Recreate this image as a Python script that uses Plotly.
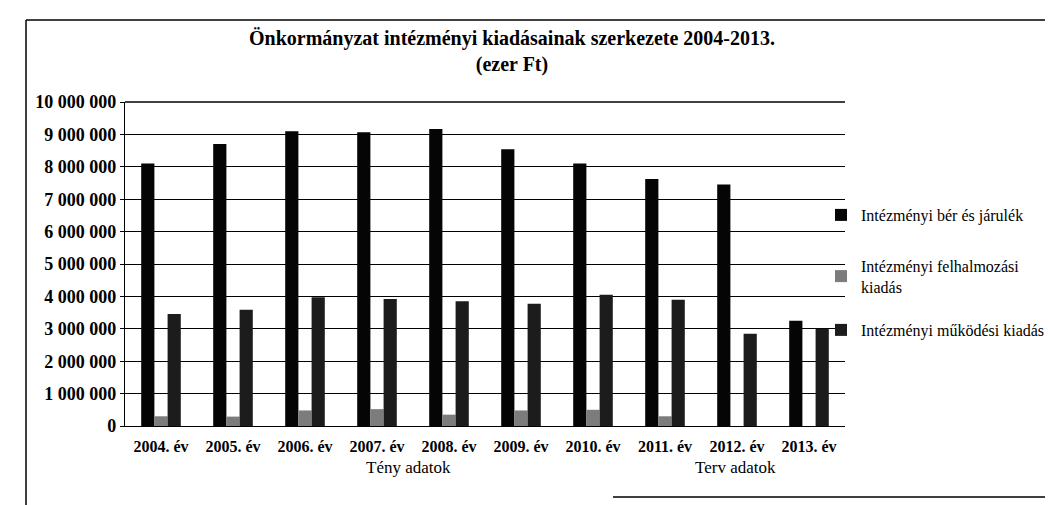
import plotly.graph_objects as go

years = ["2004. év", "2005. év", "2006. év", "2007. év", "2008. év",
         "2009. év", "2010. év", "2011. év", "2012. év", "2013. év"]
ber_jarulek = [8100000, 8700000, 9100000, 9070000, 9170000,
               8540000, 8100000, 7620000, 7450000, 3250000]
felhalmozasi = [300000, 290000, 480000, 520000, 350000,
                480000, 500000, 300000, 0, 0]
mukodesi = [3460000, 3590000, 3970000, 3920000, 3850000,
            3770000, 4050000, 3900000, 2850000, 3000000]
series_names = ["Intézményi bér és járulék",
                "Intézményi felhalmozási<br>kiadás",
                "Intézményi működési kiadás"]
group_labels = ["Tény adatok", "Terv adatok"]
title_lines = ["Önkormányzat intézményi kiadásainak szerkezete 2004-2013.", "(ezer Ft)"]

SERIF = "Liberation Serif, Times New Roman, serif"
W, H = 1053, 505
L, R, T, B = 117, 216, 94, 87
PW, PH = W - L - R, H - T - B


def px_x(p):
    return (p - L) / PW


def px_y(p):
    return (H - B - p) / PH


fig = go.Figure()
colors = ["#050505", "#7c7c7c", "#1c1c1c"]
legend_refs = ["legend", "legend", "legend2"]
for i, (name, vals) in enumerate(zip(series_names, [ber_jarulek, felhalmozasi, mukodesi])):
    fig.add_trace(go.Bar(x=years, y=vals, name=name, marker_color=colors[i],
                         marker_line_width=0, legendgroup=f"g{i}",
                         legend=legend_refs[i]))

legend_style = dict(xanchor="left", yanchor="top",
                    font=dict(family=SERIF, size=16, color="black"),
                    bgcolor="rgba(0,0,0,0)", itemwidth=30)
fig.update_layout(
    width=W, height=H,
    margin=dict(l=L, r=R, t=T, b=B, autoexpand=False),
    paper_bgcolor="white", plot_bgcolor="white",
    barmode="group", bargap=0.45, bargroupgap=0,
    separators=", ",
    font=dict(family=SERIF, color="black"),
    title=dict(text="<br>".join(title_lines), x=504 / W, xanchor="center",
               xref="container", y=1 - 37 / H, yanchor="top", yref="container",
               font=dict(family=SERIF, size=20, weight="bold", color="black")),
    legend=dict(x=px_x(813), y=px_y(190), tracegroupgap=27, **legend_style),
    legend2=dict(x=px_x(813), y=px_y(305), **legend_style),
    showlegend=True,
)
fig.update_yaxes(range=[0, 10000000], dtick=1000000, tickformat=",d",
                 showgrid=True, gridcolor="black", gridwidth=1.3,
                 showline=True, linecolor="black", linewidth=1.3,
                 ticks="outside", ticklen=4, tickcolor="black",
                 zeroline=True, zerolinecolor="black", zerolinewidth=1.3,
                 tickfont=dict(family=SERIF, size=18, weight="bold", color="black"))
fig.update_xaxes(showline=True, linecolor="black", linewidth=1.3,
                 tickfont=dict(family=SERIF, size=16, weight="bold", color="black"),
                 ticks="", ticklabelstandoff=6)

# group labels under the category axis
fig.add_annotation(text=group_labels[0], x=px_x(400), y=px_y(471), xref="paper", yref="paper",
                   showarrow=False, font=dict(family=SERIF, size=17, color="black"))
fig.add_annotation(text=group_labels[1], x=px_x(770), y=px_y(471), xref="paper", yref="paper",
                   showarrow=False, font=dict(family=SERIF, size=17, color="black"))
# top border line of the plot area at 10M
fig.add_shape(type="line", xref="paper", yref="paper", x0=0, x1=1, y0=1, y1=1,
              line=dict(color="black", width=1.3))

# chart frame (scanned page border)
fig.add_shape(type="line", xref="paper", yref="paper", x0=px_x(18), x1=px_x(18),
              y0=px_y(12), y1=px_y(505), line=dict(color="black", width=1.5))
fig.add_shape(type="line", xref="paper", yref="paper", x0=px_x(18), x1=px_x(1053),
              y0=px_y(12), y1=px_y(12), line=dict(color="black", width=1.5))
fig.add_shape(type="line", xref="paper", yref="paper", x0=px_x(605), x1=px_x(1053),
              y0=px_y(489), y1=px_y(489), line=dict(color="black", width=1.5))

fig.write_html("out.html")
